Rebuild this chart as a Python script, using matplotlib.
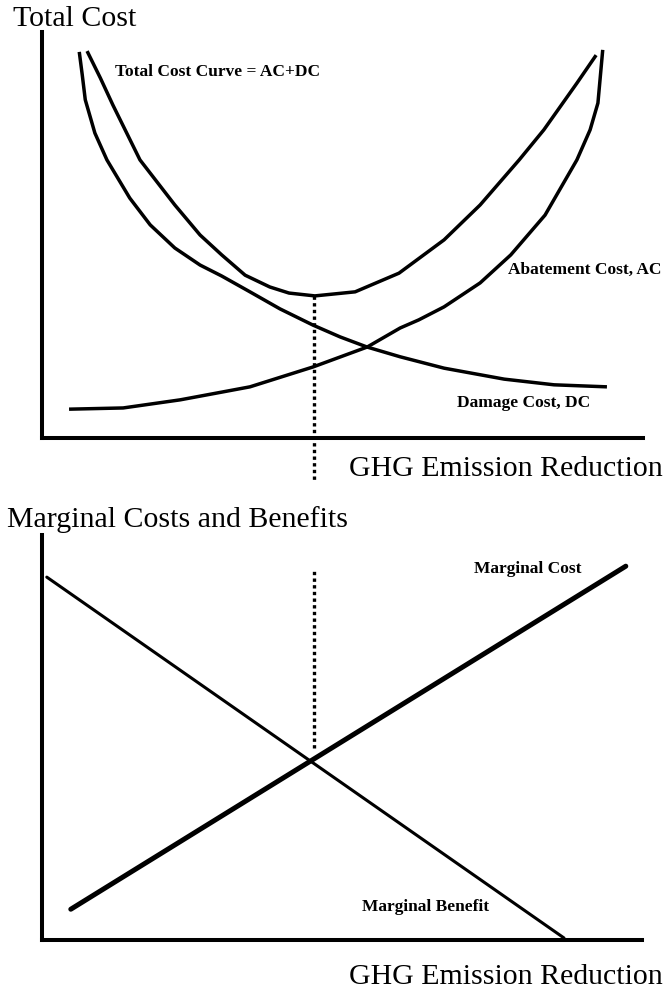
import matplotlib
matplotlib.use("Agg")
import matplotlib.pyplot as plt

plt.rcParams['font.family'] = ['Liberation Serif', 'DejaVu Serif']

# ---------------- data (abstract units, 0-100) ----------------
# Top panel: Total cost curves
dc_x = [6.2, 6.7, 7.2, 8.8, 10.8, 14.6, 18.0, 22.1, 26.3, 29.9, 34.6, 39.6, 45.1,
        49.6, 54.1, 59.6, 66.9, 76.9, 85.2, 94.0]
dc_y = [95.1, 89.4, 83.3, 75.1, 68.5, 59.1, 52.5, 46.8, 42.6, 39.9, 36.0, 31.8, 27.8,
        24.9, 22.4, 20.0, 17.2, 14.5, 13.1, 12.6]

tc_x = [7.5, 9.7, 11.8, 16.3, 22.1, 26.3, 29.9, 33.8, 37.9, 41.1, 45.4, 52.1, 59.4,
        66.9, 72.9, 79.4, 83.5, 89.0, 92.2]
tc_y = [95.3, 88.7, 82.0, 68.5, 57.4, 50.0, 45.1, 40.1, 37.2, 35.7, 35.0, 36.0, 40.6,
        48.8, 57.4, 68.5, 75.9, 87.4, 94.3]

ac_x = [4.5, 13.5, 23.0, 29.9, 34.6, 45.1, 54.1, 59.6, 62.7, 66.9, 72.9, 78.0, 83.7,
        89.0, 91.2, 92.5, 93.3]
ac_y = [7.1, 7.4, 9.4, 11.3, 12.6, 17.5, 22.4, 27.1, 29.1, 32.3, 38.2, 45.1, 54.9,
        68.5, 75.9, 82.5, 95.6]

opt_x = 45.3          # optimal reduction level
tc_min = 35.0         # total cost at optimum
top_drop = -10.3      # dotted line extends below the axis

# Bottom panel: marginal curves
mb_x = [0.8, 87.0]
mb_y = [89.6, 0.5]
mc_x = [4.8, 97.3]
mc_y = [7.6, 92.3]
dot_bottom_y = [47.4, 91.9]

# ---------------- figure ----------------
W, H = 666, 989
fig = plt.figure(figsize=(W / 100, H / 100), dpi=100)

def px(x, y):
    return x / W, 1 - y / H

ax1 = fig.add_axes([42 / W, 1 - 438 / H, 601 / W, 406 / H])
ax2 = fig.add_axes([42 / W, 1 - 940 / H, 600 / W, 405 / H])

for ax in (ax1, ax2):
    ax.set_xlim(0, 100)
    ax.set_ylim(0, 100)
    ax.set_xticks([])
    ax.set_yticks([])
    for s in ('top', 'right'):
        ax.spines[s].set_visible(False)
    for s in ('left', 'bottom'):
        ax.spines[s].set_linewidth(2.9)
        ax.spines[s].set_color('black')
    ax.patch.set_alpha(0)

lw_curve = 2.5
for xs, ys in ((dc_x, dc_y), (tc_x, tc_y), (ac_x, ac_y)):
    ax1.plot(xs, ys, color='black', lw=lw_curve, solid_capstyle='butt',
             solid_joinstyle='round')
ax1.plot([opt_x, opt_x], [tc_min, top_drop], color='black', lw=2.4,
         linestyle=(0, (1, 1)), clip_on=False)

ax2.plot(mb_x, mb_y, color='black', lw=2.2, solid_capstyle='round')
ax2.plot(mc_x, mc_y, color='black', lw=3.6, solid_capstyle='round')
ax2.plot([opt_x, opt_x], dot_bottom_y, color='black', lw=2.4,
         linestyle=(0, (1, 1)))

big = 21.5
small = 12.5
fig.text(*px(13, 26), 'Total Cost', fontsize=big, ha='left', va='baseline')
fig.text(*px(349, 476), 'GHG Emission Reduction', fontsize=big, ha='left', va='baseline')
fig.text(*px(7, 527), 'Marginal Costs and Benefits', fontsize=big, ha='left', va='baseline')
fig.text(*px(349, 984), 'GHG Emission Reduction', fontsize=big, ha='left', va='baseline')

fig.text(*px(115, 76), 'Total Cost Curve = AC+DC', fontsize=small, fontweight='bold',
         ha='left', va='baseline')
fig.text(*px(508, 274), 'Abatement Cost, AC', fontsize=small, fontweight='bold',
         ha='left', va='baseline')
fig.text(*px(457, 407), 'Damage Cost, DC', fontsize=small, fontweight='bold',
         ha='left', va='baseline')
fig.text(*px(474, 573), 'Marginal Cost', fontsize=small, fontweight='bold',
         ha='left', va='baseline')
fig.text(*px(362, 911), 'Marginal Benefit', fontsize=small, fontweight='bold',
         ha='left', va='baseline')

fig.savefig('out.png', dpi=100, facecolor='white')
